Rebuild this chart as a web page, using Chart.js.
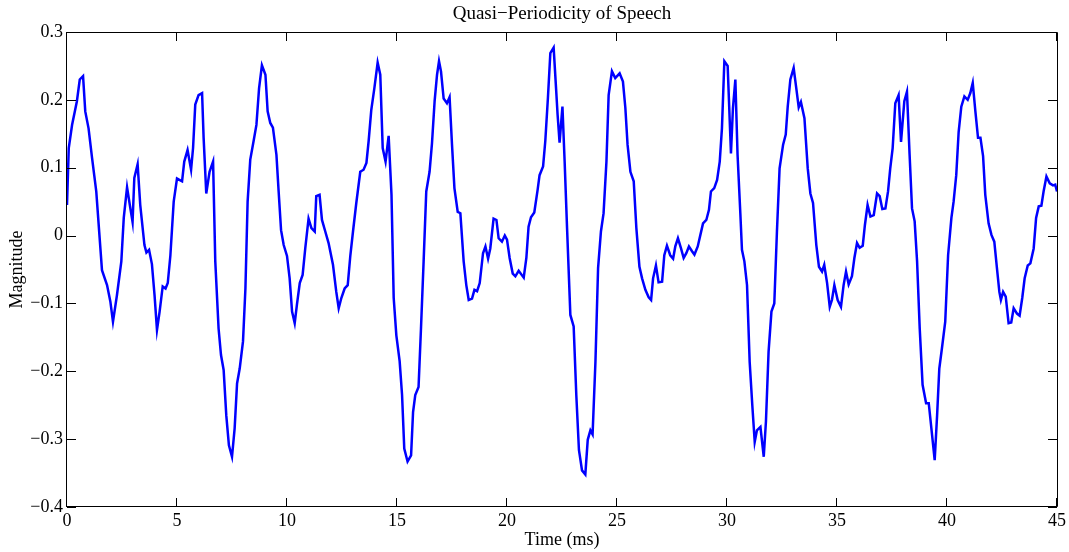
<!DOCTYPE html>
<html>
<head>
<meta charset="utf-8">
<title>Quasi-Periodicity of Speech</title>
<script src="https://cdn.jsdelivr.net/npm/chart.js@4/dist/chart.umd.min.js"></script>
<style>
  html, body { margin: 0; padding: 0; background: #fff; }
  canvas { display: block; }
</style>
</head>
<body>
<canvas id="speechChart" width="1069" height="552"></canvas>
<script>
/* ---------------------------
   DATA
---------------------------*/
const timeMs = [
  0, 0.08, 0.23, 0.45, 0.58, 0.73, 0.83, 0.98, 1.14, 1.33, 1.59, 1.82, 1.97, 2.09, 2.27, 2.47, 2.58, 2.73, 2.88, 2.98,
  3.06, 3.21, 3.33, 3.52, 3.61, 3.73, 3.86, 3.98, 4.09, 4.21, 4.35, 4.48, 4.58, 4.70, 4.85, 5.0, 5.23, 5.33, 5.48, 5.64,
  5.73, 5.83, 5.98, 6.14, 6.21, 6.33, 6.48, 6.64, 6.74, 6.89, 7.0, 7.12, 7.24, 7.36, 7.50, 7.62, 7.73, 7.85, 8.0, 8.11,
  8.21, 8.33, 8.48, 8.61, 8.73, 8.86, 9.02, 9.12, 9.24, 9.36, 9.52, 9.62, 9.73, 9.85, 10.0, 10.12, 10.23, 10.35, 10.45, 10.58,
  10.71, 10.83, 10.98, 11.11, 11.26, 11.33, 11.48, 11.59, 11.74, 11.89, 12.09, 12.24, 12.35, 12.47, 12.62, 12.76, 12.88, 13.0, 13.15, 13.33,
  13.48, 13.61, 13.71, 13.83, 13.97, 14.12, 14.24, 14.35, 14.48, 14.62, 14.75, 14.85, 14.97, 15.12, 15.23, 15.33, 15.48, 15.64, 15.73, 15.83,
  15.98, 16.09, 16.21, 16.33, 16.48, 16.59, 16.71, 16.82, 16.91, 17.0, 17.12, 17.27, 17.39, 17.50, 17.61, 17.76, 17.88, 18.03, 18.15, 18.26,
  18.41, 18.52, 18.64, 18.76, 18.91, 19.02, 19.14, 19.24, 19.39, 19.52, 19.62, 19.77, 19.90, 20.0, 20.12, 20.26, 20.38, 20.53, 20.76, 20.88,
  20.98, 21.09, 21.24, 21.39, 21.48, 21.64, 21.74, 21.86, 21.97, 22.12, 22.23, 22.30, 22.39, 22.52, 22.62, 22.73, 22.88, 23.03, 23.15, 23.27,
  23.41, 23.56, 23.67, 23.79, 23.89, 24.02, 24.14, 24.27, 24.39, 24.52, 24.62, 24.77, 24.92, 25.12, 25.27, 25.38, 25.48, 25.61, 25.76, 25.88,
  26.02, 26.14, 26.29, 26.44, 26.55, 26.64, 26.77, 26.89, 27.05, 27.15, 27.27, 27.42, 27.55, 27.65, 27.77, 27.91, 28.03, 28.15, 28.27, 28.41,
  28.52, 28.67, 28.79, 28.91, 29.06, 29.18, 29.27, 29.42, 29.55, 29.67, 29.77, 29.88, 30.03, 30.18, 30.27, 30.38, 30.48, 30.61, 30.68, 30.79,
  30.91, 31.03, 31.15, 31.26, 31.36, 31.52, 31.67, 31.77, 31.89, 32.02, 32.15, 32.27, 32.39, 32.55, 32.67, 32.76, 32.88, 33.03, 33.15, 33.26,
  33.36, 33.52, 33.67, 33.79, 33.91, 34.06, 34.18, 34.32, 34.42, 34.55, 34.67, 34.77, 34.88, 35.03, 35.18, 35.30, 35.41, 35.53, 35.68, 35.79,
  35.91, 36.03, 36.17, 36.27, 36.39, 36.52, 36.67, 36.82, 36.94, 37.06, 37.20, 37.32, 37.42, 37.53, 37.65, 37.80, 37.91, 38.06, 38.18, 38.30,
  38.41, 38.53, 38.64, 38.76, 38.89, 39.05, 39.17, 39.29, 39.44, 39.55, 39.65, 39.77, 39.92, 40.05, 40.20, 40.30, 40.42, 40.53, 40.65, 40.79,
  40.94, 41.06, 41.17, 41.29, 41.41, 41.52, 41.64, 41.74, 41.89, 42.02, 42.15, 42.27, 42.38, 42.45, 42.55, 42.67, 42.80, 42.92, 43.03, 43.18,
  43.30, 43.42, 43.53, 43.67, 43.79, 43.94, 44.05, 44.17, 44.29, 44.39, 44.52, 44.67, 44.82, 44.92, 45.0
];

const magnitude = [
  0.045, 0.129, 0.163, 0.198, 0.230, 0.235, 0.183, 0.158, 0.114, 0.065, -0.051, -0.073, -0.097, -0.127, -0.088, -0.038, 0.026, 0.071, 0.040, 0.020,
  0.085, 0.105, 0.045, -0.014, -0.025, -0.021, -0.042, -0.088, -0.139, -0.112, -0.075, -0.078, -0.070, -0.029, 0.050, 0.084, 0.080, 0.109, 0.126, 0.097,
  0.129, 0.193, 0.207, 0.210, 0.144, 0.062, 0.094, 0.109, -0.038, -0.137, -0.176, -0.198, -0.265, -0.309, -0.326, -0.284, -0.218, -0.196, -0.156, -0.078,
  0.050, 0.112, 0.139, 0.163, 0.217, 0.251, 0.237, 0.183, 0.166, 0.159, 0.119, 0.065, 0.008, -0.014, -0.030, -0.063, -0.112, -0.129, -0.102, -0.070,
  -0.058, -0.019, 0.025, 0.011, 0.006, 0.058, 0.060, 0.023, 0.006, -0.011, -0.043, -0.083, -0.107, -0.092, -0.078, -0.073, -0.029, 0.006, 0.048, 0.094,
  0.097, 0.107, 0.139, 0.185, 0.217, 0.255, 0.237, 0.129, 0.109, 0.147, 0.060, -0.092, -0.147, -0.185, -0.235, -0.314, -0.333, -0.324, -0.260, -0.235,
  -0.223, -0.137, -0.038, 0.065, 0.094, 0.136, 0.198, 0.237, 0.257, 0.242, 0.202, 0.195, 0.204, 0.134, 0.070, 0.035, 0.033, -0.038, -0.073, -0.095,
  -0.093, -0.080, -0.082, -0.070, -0.026, -0.016, -0.034, -0.019, 0.025, 0.023, -0.004, -0.009, 0.000, -0.006, -0.033, -0.056, -0.060, -0.052, -0.062, -0.033,
  0.013, 0.027, 0.034, 0.067, 0.089, 0.102, 0.139, 0.203, 0.269, 0.277, 0.217, 0.178, 0.137, 0.190, 0.109, 0.011, -0.117, -0.134, -0.235, -0.316,
  -0.346, -0.352, -0.301, -0.287, -0.293, -0.186, -0.048, 0.006, 0.033, 0.109, 0.207, 0.242, 0.232, 0.239, 0.227, 0.188, 0.134, 0.094, 0.080, 0.011,
  -0.046, -0.063, -0.080, -0.091, -0.095, -0.063, -0.044, -0.069, -0.068, -0.029, -0.015, -0.029, -0.034, -0.016, -0.004, -0.019, -0.033, -0.026, -0.016, -0.023,
  -0.028, -0.016, 0.001, 0.018, 0.023, 0.038, 0.065, 0.070, 0.082, 0.109, 0.158, 0.257, 0.250, 0.121, 0.188, 0.230, 0.119, 0.030, -0.021, -0.038,
  -0.073, -0.186, -0.250, -0.304, -0.287, -0.282, -0.326, -0.274, -0.171, -0.112, -0.100, 0.006, 0.099, 0.134, 0.149, 0.190, 0.230, 0.247, 0.217, 0.189,
  0.197, 0.173, 0.099, 0.062, 0.048, -0.014, -0.046, -0.053, -0.043, -0.070, -0.105, -0.095, -0.073, -0.095, -0.105, -0.073, -0.053, -0.072, -0.060, -0.033,
  -0.011, -0.018, -0.015, 0.016, 0.045, 0.028, 0.030, 0.062, 0.058, 0.039, 0.040, 0.065, 0.099, 0.129, 0.195, 0.207, 0.138, 0.198, 0.212, 0.119,
  0.040, 0.021, -0.038, -0.137, -0.220, -0.247, -0.247, -0.284, -0.331, -0.265, -0.196, -0.166, -0.127, -0.029, 0.026, 0.050, 0.089, 0.153, 0.190, 0.205,
  0.200, 0.210, 0.225, 0.183, 0.144, 0.144, 0.117, 0.060, 0.018, 0.001, -0.009, -0.048, -0.083, -0.095, -0.083, -0.090, -0.129, -0.128, -0.107, -0.115,
  -0.118, -0.092, -0.063, -0.044, -0.041, -0.019, 0.026, 0.043, 0.044, 0.065, 0.087, 0.077, 0.074, 0.075, 0.065
];

const xTicks = [0, 5, 10, 15, 20, 25, 30, 35, 40, 45];
const yTicks = [-0.4, -0.3, -0.2, -0.1, 0, 0.1, 0.2, 0.3];

/* ---------------------------
   STYLE
---------------------------*/
const FONT = 'Liberation Serif, Times New Roman, serif';
const TICK_LEN = 9;

function fmtY(v) {
    if (Math.abs(v) < 1e-9) return '0';
    return v.toFixed(1).replace('-', '\u2212');
}

// MATLAB-like box with inward ticks on all four sides
const axesBox = {
    id: 'axesBox',
    afterDatasetsDraw(chart) {
        const { ctx, chartArea: a, scales } = chart;
        ctx.save();
        ctx.strokeStyle = '#000';
        ctx.lineWidth = 1;
        ctx.beginPath();
        xTicks.forEach(v => {
            const px = Math.round(scales.x.getPixelForValue(v)) - 0.5;
            ctx.moveTo(px, a.bottom); ctx.lineTo(px, a.bottom - TICK_LEN);
            ctx.moveTo(px, a.top); ctx.lineTo(px, a.top + TICK_LEN);
        });
        yTicks.forEach(v => {
            const py = Math.round(scales.y.getPixelForValue(v)) + 0.5;
            ctx.moveTo(a.left, py); ctx.lineTo(a.left + TICK_LEN, py);
            ctx.moveTo(a.right, py); ctx.lineTo(a.right - TICK_LEN, py);
        });
        ctx.rect(a.left - 0.5, a.top + 0.5, a.right - a.left + 1, a.bottom - a.top - 1);
        ctx.stroke();
        ctx.restore();
    }
};

/* ---------------------------
   INITIALIZE CHART
---------------------------*/
function initializeChart() {
    const ctx = document.getElementById('speechChart');
    if (!ctx) return;

    return new Chart(ctx, {
        type: 'line',
        data: {
            datasets: [{
                data: timeMs.map((t, i) => ({ x: t, y: magnitude[i] })),
                borderColor: '#0000ff',
                borderWidth: 2.5,
                pointRadius: 0,
                tension: 0,
                fill: false
            }]
        },
        options: {
            responsive: false,
            animation: false,
            devicePixelRatio: 1,
            layout: { padding: { left: 0, right: 11, top: 0, bottom: 0 } },
            plugins: {
                legend: { display: false },
                tooltip: { enabled: false },
                title: {
                    display: true,
                    fullSize: false,
                    text: 'Quasi\u2212Periodicity of Speech',
                    color: '#000',
                    font: { family: FONT, size: 19, weight: 'normal' },
                    padding: { top: 3, bottom: 6.2 }
                }
            },
            scales: {
                x: {
                    type: 'linear',
                    min: 0,
                    max: 45,
                    grid: { display: false, drawTicks: false },
                    border: { display: false },
                    afterBuildTicks: scale => { scale.ticks = xTicks.map(v => ({ value: v })); },
                    afterFit: scale => { scale.height = 45; },
                    ticks: {
                        color: '#000',
                        font: { family: FONT, size: 18 },
                        padding: 3,
                        autoSkip: false,
                        maxRotation: 0
                    },
                    title: {
                        display: true,
                        text: 'Time (ms)',
                        color: '#000',
                        font: { family: FONT, size: 18 },
                        padding: { top: 0, bottom: 1 }
                    }
                },
                y: {
                    type: 'linear',
                    min: -0.4,
                    max: 0.3,
                    grid: { display: false, drawTicks: false },
                    border: { display: false },
                    afterBuildTicks: scale => { scale.ticks = yTicks.map(v => ({ value: v })); },
                    afterFit: scale => { scale.width = 67; },
                    ticks: {
                        color: '#000',
                        font: { family: FONT, size: 18 },
                        padding: 4,
                        autoSkip: false,
                        callback: v => fmtY(v)
                    },
                    title: {
                        display: true,
                        text: 'Magnitude',
                        color: '#000',
                        font: { family: FONT, size: 18 },
                        padding: { top: 6, bottom: 0 }
                    }
                }
            }
        },
        plugins: [axesBox]
    });
}

initializeChart();
</script>
</body>
</html>
